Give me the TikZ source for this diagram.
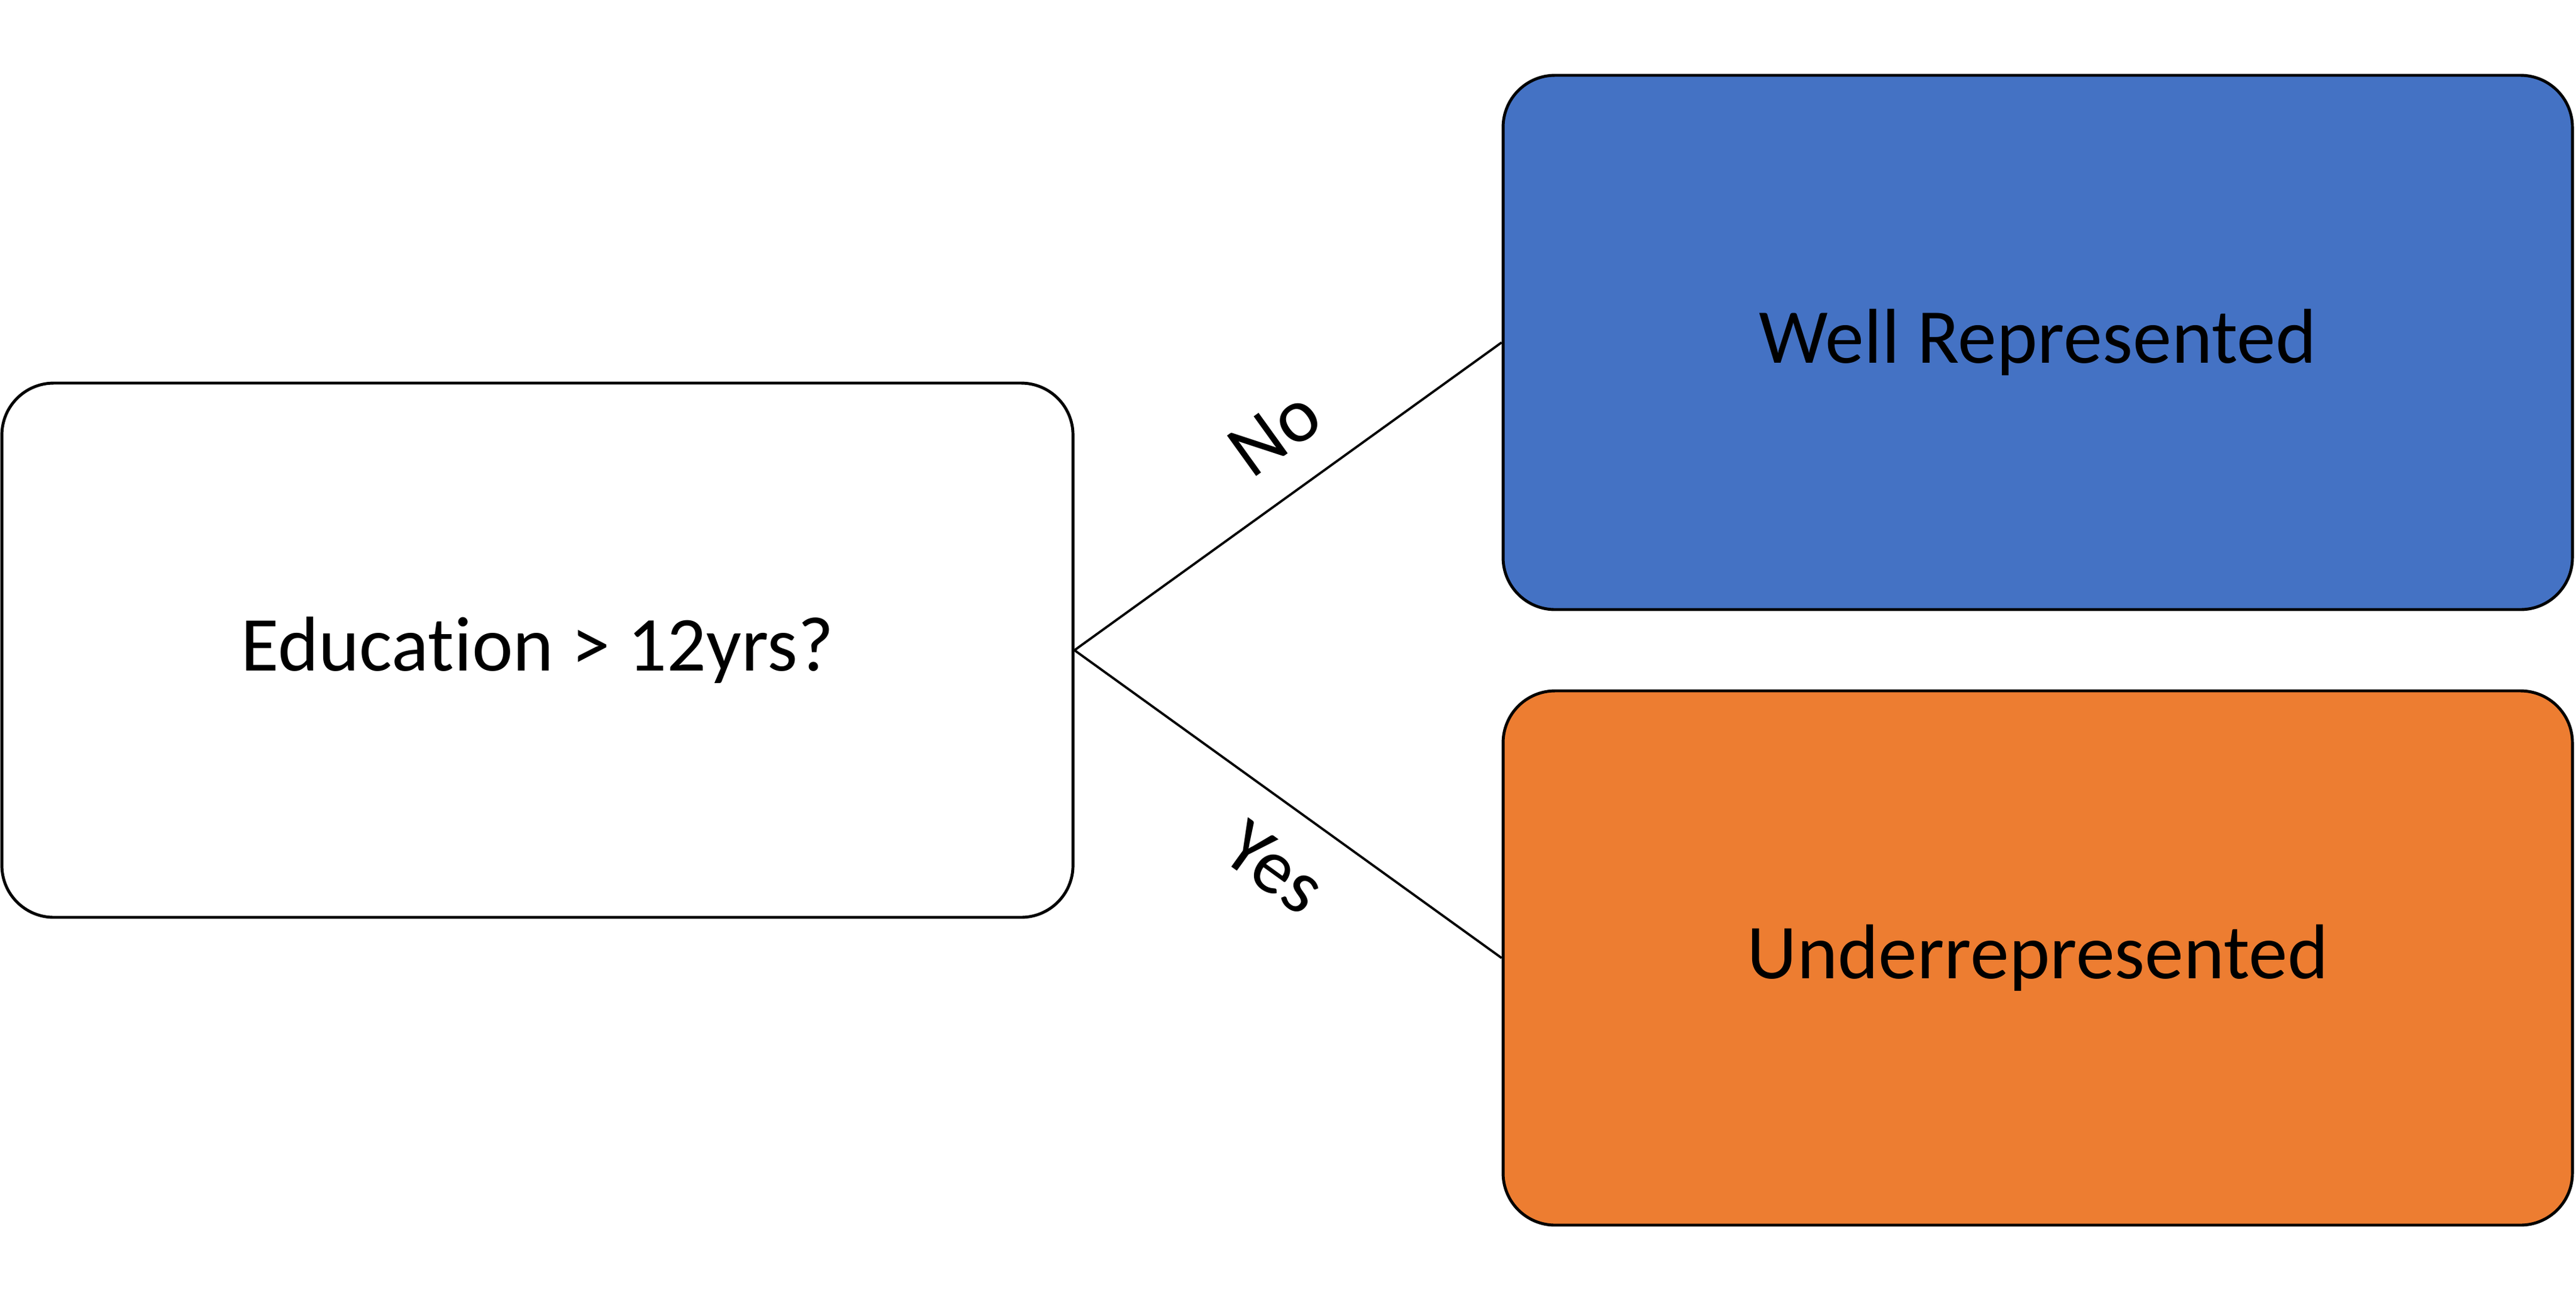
\documentclass[tikz,border=0pt]{standalone}
\usepackage{fontspec}
\setmainfont[Ligatures={NoCommon}]{Carlito}
\usetikzlibrary{positioning}
\definecolor{wellblue}{HTML}{4472C4}
\definecolor{underorange}{HTML}{ED7D31}
\tikzstyle{qbox}=[rectangle, rounded corners=4.35mm, draw=black, fill=white, line width=0.7pt,
                  minimum width=89.65mm, minimum height=44.7mm, inner sep=2pt,
                  text centered, font=\fontsize{18.5}{22}\selectfont]
\tikzstyle{wbox}=[qbox, fill=wellblue, minimum width=89.5mm]
\tikzstyle{ubox}=[qbox, fill=underorange, minimum width=89.5mm]
\tikzstyle{pline}=[-, line width=0.55pt]
\tikzstyle{plabel}=[sloped, font=\fontsize{18.5}{22}\selectfont]
\begin{document}
\begin{tikzpicture}[node distance=0mm]
\useasboundingbox (0,0) rectangle (215.6mm,-109.05mm);

\node (EDU) [qbox] at (44.98mm,-54.4mm) {Education > 12yrs?};

\node (WELL) [wbox, right=35.75mm of EDU.east, yshift=25.75mm] {Well Represented};
\node (UNDER) [ubox, right=35.75mm of EDU.east, yshift=-25.75mm] {Underrepresented};

 \draw[pline] (EDU.east) -- (WELL.west) node[plabel, pos=0.55, above=1.6mm] {No};
 \draw[pline] (EDU.east) -- (UNDER.west) node[plabel, pos=0.55, below=1.6mm] {Yes};

\end{tikzpicture}
\end{document}
